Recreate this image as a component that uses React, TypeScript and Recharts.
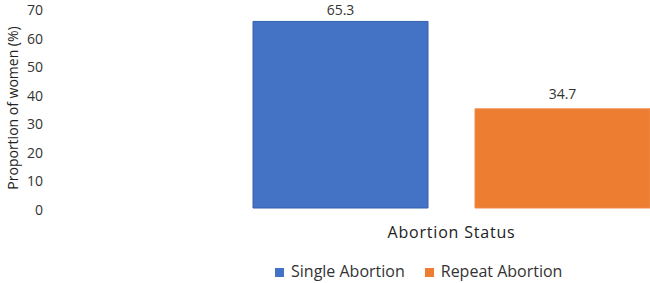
import { Bar, BarChart, XAxis, YAxis, Legend, LabelList, Label } from 'recharts'

const categories = ['Abortion Status']
const singleAbortion = [65.3]
const repeatAbortion = [34.7]
const yTicks = [0, 10, 20, 30, 40, 50, 60, 70]

const data = categories.map((status, i) => ({
  status,
  single: singleAbortion[i],
  repeat: repeatAbortion[i],
}))

const font = '"Open Sans", "Liberation Sans", sans-serif'

export default function App() {
  return (
    <div style={{ position: 'fixed', top: 0, left: 0, width: 650, height: 283, overflow: 'hidden', fontFamily: font, background: '#fff' }}>
      <BarChart width={853} height={283} data={data} margin={{ top: 8, right: 0, left: 0, bottom: 35 }} barGap={47}>
        <XAxis dataKey="status" tick={false} axisLine={false} tickLine={false} height={40}>
          <Label
            value="Abortion Status"
            position="insideTop"
            offset={19}
            style={{ fontFamily: font, fontSize: 16, letterSpacing: 0.8, fill: '#222' }}
          />
        </XAxis>
        <YAxis
          domain={[0, 70]}
          ticks={yTicks}
          width={50}
          axisLine={false}
          tickLine={false}
          tickSize={0}
          tickMargin={7}
          interval={0}
          tick={{ fill: '#333', fontSize: 14, fontFamily: font, dy: 2 }}
        >
          <Label
            value="Proportion of women (%)"
            angle={-90}
            position="insideLeft"
            offset={13}
            style={{ textAnchor: 'middle', fontFamily: font, fontSize: 14, fill: '#222' }}
          />
        </YAxis>
        <Legend
          verticalAlign="middle"
          align="center"
          iconType="square"
          iconSize={9}
          itemSorter={() => 0}
          wrapperStyle={{ left: 275, top: 262, width: 'auto', fontFamily: font, fontSize: 16, lineHeight: '18px' }}
          formatter={(value) => <span style={{ color: '#333', marginLeft: 3, marginRight: 10 }}>{value}</span>}
        />
        <Bar dataKey="single" name="Single Abortion" fill="#4472C4" stroke="#3560B0" strokeWidth={1} barSize={175} isAnimationActive={false}>
          <LabelList dataKey="single" position="top" offset={6} style={{ fill: '#333', fontSize: 14, fontFamily: font }} />
        </Bar>
        <Bar dataKey="repeat" name="Repeat Abortion" fill="#ED7D31" stroke="#EF8A4A" strokeWidth={1} barSize={175} isAnimationActive={false}>
          <LabelList dataKey="repeat" position="top" offset={10} style={{ fill: '#333', fontSize: 14, fontFamily: font }} />
        </Bar>
      </BarChart>
    </div>
  )
}
